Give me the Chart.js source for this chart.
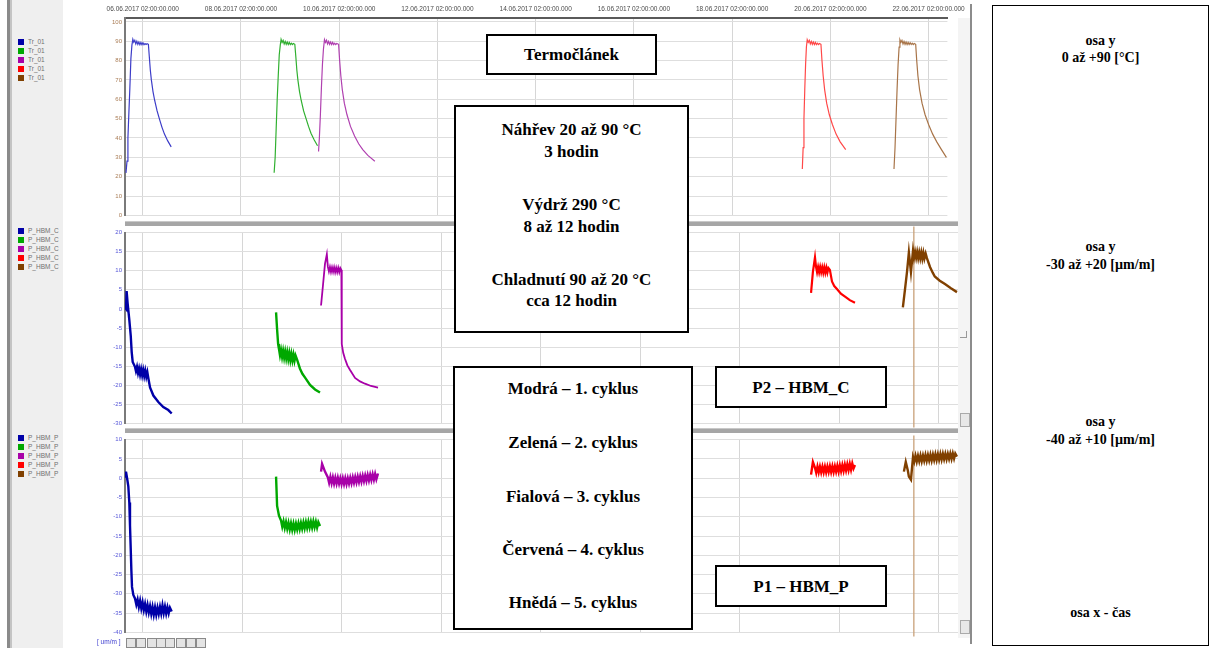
<!DOCTYPE html>
<html>
<head>
<meta charset="utf-8">
<script src="https://cdn.jsdelivr.net/npm/chart.js@4.4.1/dist/chart.umd.min.js"></script>
<style>
  body { margin:0; width:1212px; height:648px; background:#fff; position:relative; overflow:hidden;
         font-family:"Liberation Sans", Arial, sans-serif; }
  canvas { position:absolute; }
  .abs { position:absolute; }
  .box { position:absolute; border:2px solid #000; background:#fff; box-sizing:border-box;
         font-family:"Liberation Serif","Times New Roman",serif; font-weight:bold; font-size:17px;
         color:#000; text-align:center; }
  .box .ln { position:absolute; left:0; right:0; line-height:20px; }
  .leg { position:absolute; left:18px; font-size:6.5px; color:#707070; line-height:9px; }
  .leg .sw { display:inline-block; width:6px; height:6px; margin-right:4px; vertical-align:-1px; }
  .sep { position:absolute; left:125px; width:847px; height:4px; background:#a6a6a6;
         border-top:1px solid #c8c8c8; }
  .btn { position:absolute; top:638px; width:8px; height:8px; border:1px solid #8a8a8a; background:#e4e4e4; }
</style>
</head>
<body>

<!-- left gray strip and legend panel -->
<div class="abs" style="left:7px;top:0;width:3px;height:648px;background:#8a8a8a"></div>
<div class="abs" style="left:10px;top:0;width:2px;height:648px;background:#c4c4c4"></div>
<div class="abs" style="left:12px;top:0;width:51px;height:648px;background:#efefef"></div>
<div id="leg1" class="leg" style="top:37px"></div>
<div id="leg2" class="leg" style="top:226px"></div>
<div id="leg3" class="leg" style="top:433px"></div>

<canvas id="cTemp" width="880" height="222" style="left:90px;top:0"></canvas>
<canvas id="cStrainC" width="880" height="204" style="left:90px;top:226px"></canvas>
<canvas id="cStrainP" width="880" height="206" style="left:90px;top:433px"></canvas>

<div class="sep" style="top:221px"></div>
<div class="sep" style="top:428px"></div>

<!-- scrollbar column -->
<div class="abs" style="left:958px;top:18px;width:12px;height:620px;background:#f4f4f4"></div>
<div class="abs" style="left:970px;top:4px;width:2px;height:640px;background:#8c8c8c"></div>
<div class="abs" style="left:960px;top:331px;width:6px;height:6px;border-right:1px solid #999;border-bottom:1px solid #999"></div>
<div class="abs" style="left:960px;top:413px;width:8px;height:12px;border:1px solid #aaa;background:#e8e8e8"></div>
<div class="abs" style="left:960px;top:620px;width:8px;height:12px;border:1px solid #aaa;background:#e8e8e8"></div>

<!-- bottom toolbar -->
<div class="abs" style="left:97px;top:638px;font-size:6.5px;color:#4040d0">[ um/m ]</div>
<div class="btn" style="left:126px"></div>
<div class="btn" style="left:136px"></div>
<div class="btn" style="left:147px"></div>
<div class="btn" style="left:156px"></div>
<div class="btn" style="left:165px"></div>
<div class="btn" style="left:176px"></div>
<div class="btn" style="left:186px"></div>
<div class="btn" style="left:196px"></div>

<!-- annotation boxes -->
<div class="box" style="left:486px;top:34px;width:171px;height:41px">
  <div class="ln" style="top:9px">Termočlánek</div>
</div>
<div class="box" style="left:454px;top:105px;width:235px;height:228px">
  <div class="ln" style="top:13px">Náhřev 20 až 90 °C</div>
  <div class="ln" style="top:35px">3 hodin</div>
  <div class="ln" style="top:88px">Výdrž 290 °C</div>
  <div class="ln" style="top:110px">8 až 12 hodin</div>
  <div class="ln" style="top:163px">Chladnutí 90 až 20 °C</div>
  <div class="ln" style="top:184px">cca 12 hodin</div>
</div>
<div class="box" style="left:453px;top:366px;width:240px;height:264px">
  <div class="ln" style="top:11px">Modrá – 1. cyklus</div>
  <div class="ln" style="top:65px">Zelená – 2. cyklus</div>
  <div class="ln" style="top:119px">Fialová – 3. cyklus</div>
  <div class="ln" style="top:172px">Červená – 4. cyklus</div>
  <div class="ln" style="top:225px">Hnědá – 5. cyklus</div>
</div>
<div class="box" style="left:715px;top:366px;width:172px;height:42px">
  <div class="ln" style="top:10px">P2 – HBM_C</div>
</div>
<div class="box" style="left:715px;top:565px;width:172px;height:42px">
  <div class="ln" style="top:10px">P1 – HBM_P</div>
</div>
<div class="box" style="left:992px;top:5px;width:217px;height:641px;font-size:14px;border-width:1.5px">
  <div class="ln" style="top:25px">osa y</div>
  <div class="ln" style="top:42px">0 až +90 [°C]</div>
  <div class="ln" style="top:231px">osa y</div>
  <div class="ln" style="top:249px">-30 až +20 [µm/m]</div>
  <div class="ln" style="top:406px">osa y</div>
  <div class="ln" style="top:424px">-40 až +10 [µm/m]</div>
  <div class="ln" style="top:597px">osa x - čas</div>
</div>

<script>
// x = hours since 06.06.2017 00:00, y values
const timeTicks = [2, 50, 98, 146, 194, 242, 290, 338, 386];
const timeLabels = ['06.06.2017 02:00:00.000', '08.06.2017 02:00:00.000', '10.06.2017 02:00:00.000',
  '12.06.2017 02:00:00.000', '14.06.2017 02:00:00.000', '16.06.2017 02:00:00.000',
  '18.06.2017 02:00:00.000', '20.06.2017 02:00:00.000', '22.06.2017 02:00:00.000'];
const xMin = -6.68, xMax = 395.2;

const tempTicks = [100, 95, 90, 85, 80, 75, 70, 65, 60, 55, 50, 45, 40, 35, 30, 25, 20, 15, 10, 5, 0];
const strainCTicks = ['20','18','15','13','10','8','5','3','0','-3','-5','-8','-10','-13','-15','-18','-20','-23','-25','-28','-30'];
const strainPTicks = ['10','8','5','3','0','-3','-5','-8','-10','-13','-15','-18','-20','-23','-25','-28','-30','-33','-35','-38','-40'];

const cycleColors = ['#0000a8', '#00a800', '#a800a8', '#ff0000', '#804000'];
const tempColors  = ['#3c3cc8', '#30b030', '#b040b0', '#ff4848', '#a87448'];

// Tr_01 thermocouple, °C
const tempBlue = [[-6.2,22],[-5.7,28],[-5.25,40],[-4.75,54],[-4.3,66],[-3.8,81],[-3.3,88],[-2.85,91],[-2.4,89.5],
  [-1.9,90.5],[-1.4,88.6],[-0.9,90],[-0.4,88.4],[0.1,89.6],[0.6,88.2],[1.1,89.4],[1.6,88.2],[2.1,89.2],[2.6,88.2],
  [3.1,88.8],[3.6,88.3],[4.1,88.7],[4.75,88.4],[5.2,82],[5.7,75],[6.2,70],[7,64],[7.8,59.5],[9,54],[10.2,49.6],
  [11.4,45.5],[12.6,42],[14.2,38.5],[15.9,35.4]];
const tempGreen = [[66.2,22],[66.7,30],[67.2,45],[67.7,60],[68.2,72],[68.7,83],[69.2,88],[69.6,91],[70.1,89.4],
  [70.6,90.4],[71.1,88.6],[71.6,89.9],[72.1,88.4],[72.6,89.6],[73.1,88.3],[73.6,89.4],[74.1,88.3],[74.6,89],
  [75.1,88.3],[75.6,88.8],[76.3,88.4],[76.8,82],[77.3,75],[77.8,70],[78.6,64],[79.4,59.5],[80.6,54],[81.8,50],
  [83,46],[84.2,42.5],[85.8,39],[87.4,36]];
const tempPurple = [[87.9,33],[88.3,40],[88.8,52],[89.3,66],[89.8,78],[90.3,86],[90.8,90.8],[91.3,89.4],[91.8,90.5],
  [92.3,88.6],[92.8,89.9],[93.3,88.4],[93.8,89.6],[94.3,88.3],[94.8,89.4],[95.3,88.3],[95.8,89],[96.3,88.3],
  [96.8,88.8],[97.7,88.4],[98.2,80],[98.8,72],[99.5,65],[100.5,58],[101.8,52],[103.5,46],[105.5,41],[107.5,37],
  [109.5,34],[112,31],[115.4,28]];
const tempRed = [[324.3,24],[324.7,35],[325.1,50],[325.5,65],[325.9,78],[326.3,87],[326.7,90.8],[327.2,89.4],
  [327.7,90.4],[328.2,88.6],[328.7,89.9],[329.2,88.4],[329.7,89.6],[330.2,88.3],[330.7,89.4],[331.2,88.3],
  [331.7,89],[332.2,88.3],[332.7,88.8],[333.4,88.4],[333.9,80],[334.5,72],[335.2,65],[336.2,58],[337.5,52],
  [339,47],[340.8,42],[342.8,38],[345.5,34]];
const tempBrown = [[369.1,24],[369.6,35],[370.1,50],[370.6,65],[371.1,78],[371.6,87],[372,90.8],[372.5,89.4],
  [373,90.4],[373.5,88.6],[374,89.9],[374.5,88.4],[375,89.6],[375.5,88.3],[376,89.4],[376.5,88.3],[377,89.2],
  [377.5,88.3],[378,89],[378.5,88.3],[379,88.8],[379.7,88.4],[380.2,80],[380.8,72],[381.6,65],[382.8,58],
  [384.3,52],[386,47],[388,42],[390,38],[392.3,34],[394.7,30]];

// P_HBM_C strain gauge (P2), µm/m
const strainCBlue = [[-6.6,0.3],[-6.2,0],[-5.9,4.7],[-5.4,1.4],[-4.6,-2.9],[-3.9,-7.1],[-3.45,-11.3],[-2.97,-13.9],
  [-1.9,-15.1],[-1.4,-16.3],[-0.9,-15.2],[-0.4,-16.8],[0.1,-15.6],[0.6,-17.2],[1.1,-15.8],[1.6,-17.4],[2.1,-16],
  [2.6,-17.6],[3.1,-16.2],[3.6,-17.8],[4.1,-16.6],[4.56,-18.1],[5.4,-20.6],[7,-22.7],[9.4,-24.4],[11.8,-25.7],
  [14.2,-26.5],[15.85,-27.4]];
const strainCGreen = [[66.2,-0.9],[66.7,-5.4],[67.2,-9.2],[67.6,-10.5],[68.1,-12.2],[68.6,-10.8],[69.1,-12.6],
  [69.6,-11],[70.1,-12.8],[70.6,-11.2],[71.1,-13],[71.6,-11.4],[72.1,-13.2],[72.6,-11.6],[73.1,-13.4],[73.6,-11.8],
  [74.1,-13.5],[74.6,-12],[75.1,-13.6],[75.6,-12.2],[76.3,-13.2],[77.7,-15.6],[78.9,-17],[80.2,-18],[82.6,-19.9],
  [85,-21.1],[87.4,-21.9]];
const strainCPurple = [[87.9,0.9],[88.8,6],[89.8,11.8],[90.7,14.3],[91.2,11],[91.7,9.8],[92.2,11],[92.7,9.7],
  [93.2,10.9],[93.7,9.7],[94.2,10.9],[94.7,9.6],[95.2,10.8],[95.7,9.6],[96.2,10.8],[96.7,9.6],[97.2,10.7],
  [97.7,10.2],[97.9,-9.2],[98.6,-11.5],[99.4,-13],[100.6,-14.8],[101.9,-16],[104.3,-18.1],[106.7,-19],
  [109.1,-19.6],[112,-20.2],[115.4,-20.6]];
const strainCRed = [[324.3,4.2],[325.2,9.7],[326.2,13.5],[326.7,11],[327.2,9.6],[327.7,11],[328.2,9.6],[328.7,11],
  [329.2,9.6],[329.7,10.9],[330.2,9.5],[330.7,10.9],[331.2,9.5],[331.7,10.8],[332.2,9.5],[332.7,10.7],[333.4,10.2],
  [334.4,7.2],[335.5,6],[336.8,5.2],[338.7,4],[340.7,3.2],[343,2.3],[345.5,1.6]];
const strainCBrown = [[368.6,0.4],[369.6,5],[370.6,9.7],[371.5,14.8],[372.5,9.7],[373.5,15.3],[374,13.4],[374.5,14.9],
  [375,13.4],[375.5,14.9],[376,13.3],[376.5,14.8],[377,13.3],[377.5,14.8],[378,13.2],[378.5,14.7],[379,13.2],
  [379.6,14.5],[380.2,13.3],[381.7,11],[383,9.5],[384,8.5],[386.4,7.4],[388.9,6.5],[391.8,5.4],[394.7,4.4]];

// P_HBM_P strain gauge (P1), µm/m
const strainPBlue = [[-6.68,0.4],[-6.2,1.7],[-5.56,-0.4],[-5.08,-2.1],[-4.6,-6.3],[-4.27,-12.2],[-3.93,-18.1],
  [-3.6,-24],[-3.3,-28.2],[-2.66,-30.3],[-1.86,-31.2],[-1.2,-32.8],[-0.6,-31.5],[0,-33.4],[0.6,-31.8],[1.2,-33.8],
  [1.8,-32.2],[2.4,-34.2],[3,-32.6],[3.6,-34.6],[4.2,-32.9],[4.8,-34.8],[5.4,-33.2],[6,-35.2],[6.6,-33.4],
  [7.2,-35.4],[7.8,-33.5],[8.4,-35.4],[9,-33.6],[9.6,-35.2],[10.2,-33.4],[10.8,-35.1],[11.4,-33],[12,-35],
  [12.6,-33.3],[13.2,-35.1],[13.8,-33.5],[14.4,-35],[15,-33.6],[15.85,-34.6]];
const strainPGreen = [[66.2,0.4],[66.7,-7.2],[67.6,-9.7],[68.6,-11],[69.2,-12.6],[69.8,-11.2],[70.4,-12.9],[71,-11.4],
  [71.6,-13.1],[72.2,-11.6],[72.8,-13.3],[73.4,-11.7],[74,-13.4],[74.6,-11.8],[75.2,-13.4],[75.8,-11.8],[76.4,-13.3],
  [77,-11.7],[77.6,-13.2],[78.2,-11.6],[78.8,-13.1],[79.4,-11.5],[80,-13],[80.6,-11.4],[81.2,-12.9],[81.8,-11.3],
  [82.4,-12.8],[83,-11.3],[83.6,-12.8],[84.2,-11.2],[84.8,-12.7],[85.4,-11.3],[86,-12.8],[86.6,-11.4],[87.4,-12.4]];
const strainPPurple = [[87.9,1.7],[88.4,3.7],[89.8,1.7],[91.2,0.2],[91.8,-1.2],[92.4,0.3],[93,-1.3],[93.6,0.2],
  [94.2,-1.4],[94.8,0.1],[95.4,-1.4],[96,0.1],[96.6,-1.4],[97.2,0],[97.8,-1.5],[98.4,0],[99,-1.5],[99.6,0],
  [100.2,-1.5],[100.8,0],[101.4,-1.4],[102,0.1],[102.6,-1.3],[103.2,0.2],[103.8,-1.2],[104.4,0.3],[105,-1.1],
  [105.6,0.4],[106.2,-1],[106.8,0.5],[107.4,-0.9],[108,0.6],[108.6,-0.8],[109.2,0.7],[109.8,-0.7],[110.4,0.8],
  [111,-0.6],[111.6,0.9],[112.2,-0.5],[112.8,1],[113.4,-0.4],[114,1.1],[114.6,-0.3],[115.4,1.2]];
const strainPRed = [[324.3,0.9],[325.2,4.2],[326.2,2.7],[326.8,1.4],[327.4,3],[328,1.5],[328.6,3],[329.2,1.5],
  [329.8,3],[330.4,1.5],[331,3],[331.6,1.5],[332.2,3],[332.8,1.6],[333.4,3.1],[334,1.6],[334.6,3.1],[335.2,1.6],
  [335.8,3.1],[336.4,1.7],[337,3.2],[337.6,1.7],[338.2,3.3],[338.8,1.8],[339.4,3.4],[340,1.9],[340.6,3.5],
  [341.2,2],[341.8,3.6],[342.4,2.1],[343,3.7],[343.6,2.2],[344.2,3.8],[344.8,2.5],[345.5,3.4]];
const strainPBrown = [[369.1,1.7],[370,4.2],[371,2],[371.5,0.4],[372.5,-0.4],[373.5,5.5],[374.1,4.3],[374.7,5.8],
  [375.3,4.3],[375.9,5.8],[376.5,4.4],[377.1,5.9],[377.7,4.4],[378.3,5.9],[378.9,4.5],[379.5,6],[380.1,4.5],
  [380.7,6],[381.3,4.6],[381.9,6.1],[382.5,4.6],[383.1,6.1],[383.7,4.7],[384.3,6.2],[384.9,4.7],[385.5,6.2],
  [386.1,4.8],[386.7,6.3],[387.3,4.8],[387.9,6.3],[388.5,4.9],[389.1,6.3],[389.7,4.9],[390.3,6.3],[390.9,5],
  [391.5,6.4],[392.1,5],[392.7,6.4],[393.3,5.1],[393.9,6.4],[394.7,5.6]];

// vertical spike of the brown series through both strain channels
const cursorHour = 373.9;

// ---------- legends ----------
function fillLegend(id, name) {
  document.getElementById(id).innerHTML = cycleColors.map(c =>
    `<div><span class="sw" style="background:${c}"></span>${name}</div>`).join('');
}
fillLegend('leg1', 'Tr_01');
fillLegend('leg2', 'P_HBM_C');
fillLegend('leg3', 'P_HBM_P');

// ---------- charts ----------
const line = (label, data, color, width) => ({
  label, data, borderColor: color, borderWidth: width,
  pointRadius: 0, tension: 0, fill: false,
});

function xScale(top) {
  return {
    type: 'linear', min: xMin, max: xMax,
    position: top ? 'top' : 'bottom',
    afterBuildTicks: s => { s.ticks = timeTicks.map(v => ({ value: v })); },
    afterFit: s => { s.height = top ? 18 : 0; },
    grid: { color: '#d6d6d6', drawTicks: false },
    border: top ? { color: '#5a5a5a', width: 2 } : { display: false },
    ticks: {
      display: top, autoSkip: false, maxRotation: 0, padding: 5,
      color: '#4a4a4a', font: { family: 'Liberation Sans', size: 6.5 },
      callback: (v, i) => timeLabels[i],
    },
  };
}

function yScale(min, max, values, labels, color) {
  return {
    min, max,
    afterBuildTicks: s => { s.ticks = values.map(v => ({ value: v })); },
    afterFit: s => { s.width = 35; },
    grid: { color: '#dedede', drawTicks: false },
    border: { color: '#7a7a7a', width: 2 },
    ticks: {
      padding: 3, color, font: { family: 'Liberation Sans', size: 6 },
      callback: (v, i) => labels[i],
    },
  };
}

const commonPlugins = { legend: { display: false }, tooltip: { enabled: false } };

new Chart(document.getElementById('cTemp'), {
  type: 'line',
  data: { datasets: [
    line('Tr_01', tempBlue, tempColors[0], 1.2),
    line('Tr_01', tempGreen, tempColors[1], 1.2),
    line('Tr_01', tempPurple, tempColors[2], 1.2),
    line('Tr_01', tempRed, tempColors[3], 1.2),
    line('Tr_01', tempBrown, tempColors[4], 1.2),
  ]},
  options: {
    responsive: false, animation: false, devicePixelRatio: 1,
    layout: { padding: { top: 0, bottom: 2, left: 0, right: 12 } },
    plugins: commonPlugins,
    scales: {
      x: xScale(true),
      y: yScale(0, 102, tempTicks, tempTicks.map(String), '#a97c55'),
    },
  },
});

const stepValues = (max, n) => Array.from({ length: n }, (_, i) => max - i * 2.5);

new Chart(document.getElementById('cStrainC'), {
  type: 'line',
  data: { datasets: [
    line('P_HBM_C', strainCBlue, cycleColors[0], 2.4),
    line('P_HBM_C', strainCGreen, cycleColors[1], 2.4),
    line('P_HBM_C', strainCPurple, cycleColors[2], 1.8),
    line('P_HBM_C', strainCRed, cycleColors[3], 2.2),
    line('P_HBM_C', strainCBrown, cycleColors[4], 2.4),
    Object.assign(line('cursor', [[cursorHour, 25], [cursorHour, -35]], '#c8a078', 1.3),
      { clip: { left: 0, right: 0, top: 6, bottom: 4 } }),
  ]},
  options: {
    responsive: false, animation: false, devicePixelRatio: 1,
    layout: { padding: { top: 4, bottom: 3, left: 0, right: 12 } },
    plugins: commonPlugins,
    scales: {
      x: xScale(false),
      y: yScale(-30, 20, stepValues(20, strainCTicks.length), strainCTicks, '#5656d8'),
    },
  },
});

new Chart(document.getElementById('cStrainP'), {
  type: 'line',
  data: { datasets: [
    line('P_HBM_P', strainPBlue, cycleColors[0], 2.4),
    line('P_HBM_P', strainPGreen, cycleColors[1], 2.4),
    line('P_HBM_P', strainPPurple, cycleColors[2], 2.4),
    line('P_HBM_P', strainPRed, cycleColors[3], 2.4),
    line('P_HBM_P', strainPBrown, cycleColors[4], 2.4),
    Object.assign(line('cursor', [[cursorHour, 15], [cursorHour, -45]], '#c8a078', 1.3),
      { clip: { left: 0, right: 0, top: 4, bottom: 4 } }),
  ]},
  options: {
    responsive: false, animation: false, devicePixelRatio: 1,
    layout: { padding: { top: 4, bottom: 4, left: 0, right: 12 } },
    plugins: commonPlugins,
    scales: {
      x: xScale(false),
      y: yScale(-40, 10, stepValues(10, strainPTicks.length), strainPTicks, '#5656d8'),
    },
  },
});
</script>
</body>
</html>
